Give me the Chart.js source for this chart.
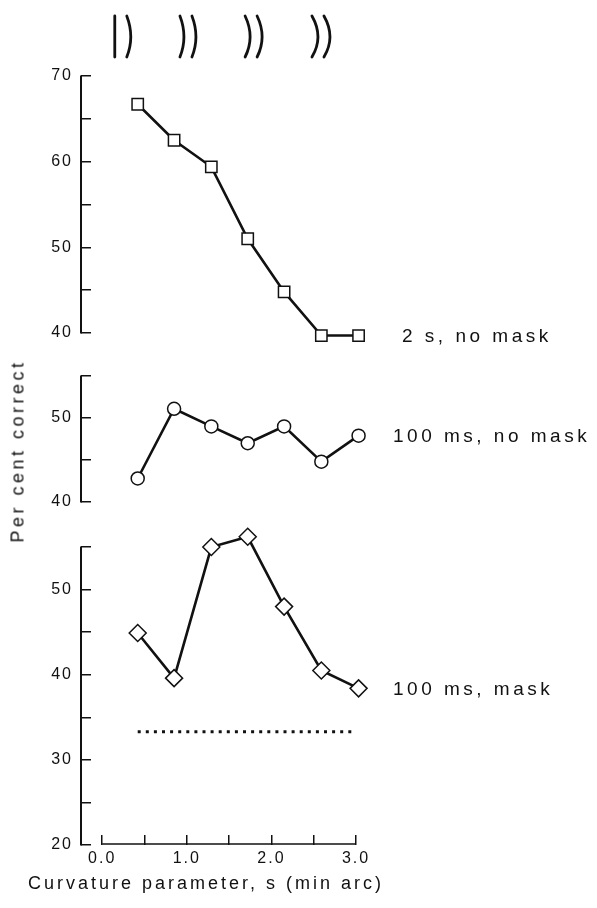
<!DOCTYPE html>
<html lang="en">
<head>
    <meta charset="UTF-8">
    <title>Per cent correct vs curvature</title>
    <script src="https://cdn.jsdelivr.net/npm/chart.js"></script>
    <style>
        body {
            margin: 0;
            background: white;
            font-family: "Liberation Sans", Arial, sans-serif;
            overflow: hidden;
        }
        .wrap {
            position: relative;
            width: 597px;
            height: 908px;
        }
        canvas {
            position: absolute;
            left: 0;
        }
        .ytitle {
            position: absolute;
            left: 18px;
            top: 451px;
            transform: translate(-50%, -50%) rotate(-90deg);
            font-size: 18px;
            letter-spacing: 3.5px;
            white-space: nowrap;
            color: #111;
        }
        .xtitle {
            position: absolute;
            left: 28px;
            top: 873px;
            font-size: 18px;
            letter-spacing: 3px;
            white-space: nowrap;
            color: #111;
        }
    </style>
    <script>
        // values
        const curvature = [0.42, 0.85, 1.29, 1.72, 2.15, 2.59, 3.03];
        const pctLongNoMask = [66.7, 62.5, 59.4, 51.0, 44.8, 39.7, 39.7];
        const pctShortNoMask = [42.8, 51.1, 49.0, 47.0, 49.0, 44.8, 47.9];
        const pctShortMask = [44.9, 39.6, 55.0, 56.2, 48.0, 40.5, 38.4];
        const chanceX = [0.42, 3.0];
        const chanceLevel = 33.3;
        const seriesNames = ["2 s, no mask", "100 ms, no mask", "100 ms, mask"];
        const xTicks = [0, 0.5, 1, 1.5, 2, 2.5, 3];
        const xTickLabels = ["0.0", "", "1.0", "", "2.0", "", "3.0"];
        const yTop = [40, 70];
        const yMid = [40, 55];
        const yBottom = [20, 55];
        // stimulus icons above the top panel (x position, bend of each arc)
        const iconX = [0.22, 0.99, 1.76, 2.55];
        const iconBends = [[0, 4], [4, 4], [5, 5], [6, 6]];

        const ink = "#111";
        const tickFont = { family: "Liberation Sans", size: 16 };

        const textPlugin = {
            id: "panelText",
            beforeDraw(chart) {
                chart.ctx.letterSpacing = "2px";
            },
            afterDatasetsDraw(chart, args, opts) {
                const ctx = chart.ctx;
                const y = chart.scales.y;
                const x = chart.scales.x;
                const left = chart.chartArea.left;

                // axis line only over the labelled range
                ctx.save();
                ctx.strokeStyle = ink;
                ctx.lineWidth = 2;
                ctx.beginPath();
                ctx.moveTo(left, y.getPixelForValue(opts.range[0]) + 0.5);
                ctx.lineTo(left, y.getPixelForValue(opts.range[1]) - 0.5);
                ctx.stroke();
                ctx.restore();

                const meta = chart.getDatasetMeta(0);
                const last = meta.data[meta.data.length - 1];
                ctx.save();
                ctx.letterSpacing = "3.5px";
                ctx.font = '19px "Liberation Sans"';
                ctx.fillStyle = ink;
                ctx.textBaseline = "middle";
                ctx.fillText(opts.label, opts.labelX, last.y + 1);
                ctx.restore();

                if (opts.icons) {
                    ctx.save();
                    ctx.strokeStyle = ink;
                    ctx.lineWidth = 2.8;
                    ctx.lineCap = "round";
                    iconX.forEach((v, i) => {
                        const cx = x.getPixelForValue(v);
                        iconBends[i].forEach((b, j) => {
                            const lx = cx + (j === 0 ? -6 : 6);
                            ctx.beginPath();
                            ctx.moveTo(lx, 16);
                            ctx.quadraticCurveTo(lx + 2 * b, 37, lx, 57);
                            ctx.stroke();
                        });
                    });
                    ctx.restore();
                }
                if (opts.baseline) {
                    const by = chart.chartArea.bottom - 1;
                    ctx.save();
                    ctx.strokeStyle = ink;
                    ctx.lineWidth = 1.5;
                    ctx.beginPath();
                    ctx.moveTo(x.getPixelForValue(xTicks[0]), by);
                    ctx.lineTo(x.getPixelForValue(xTicks[xTicks.length - 1]), by);
                    ctx.stroke();
                    ctx.restore();
                }
            }
        };

        function series(values, style, radius) {
            return {
                data: curvature.map((c, i) => ({ x: c, y: values[i] })),
                borderColor: ink,
                borderWidth: 2.6,
                pointStyle: style,
                pointRadius: radius,
                pointBorderWidth: 1.5,
                pointBorderColor: ink,
                pointBackgroundColor: "white",
                clip: false
            };
        }

        function makeChart(id, datasets, range, viewMax, pad, text, showX) {
            text.range = range;
            return new Chart(document.getElementById(id), {
                type: "line",
                data: { datasets: datasets },
                options: {
                    responsive: false,
                    animation: false,
                    events: [],
                    layout: { padding: pad },
                    plugins: {
                        legend: { display: false },
                        tooltip: { enabled: false },
                        panelText: text
                    },
                    scales: {
                        x: {
                            type: "linear",
                            display: showX,
                            min: -0.25,
                            max: 3.1,
                            afterBuildTicks: s => { s.ticks = xTicks.map(v => ({ value: v })); },
                            afterFit: s => {
                                s.height = showX ? 63 : 0;
                                s.paddingLeft = 0;
                                s.paddingRight = 0;
                            },
                            ticks: {
                                autoSkip: false,
                                maxRotation: 0,
                                padding: 14,
                                color: ink,
                                font: tickFont,
                                callback: (v, i) => xTickLabels[i]
                            },
                            grid: { drawOnChartArea: false, tickLength: -10, color: ink, lineWidth: 1.5 },
                            border: { display: false }
                        },
                        y: {
                            min: range[0],
                            max: viewMax,
                            afterFit: s => {
                                s.width = 81;
                                s.paddingTop = 0;
                                s.paddingBottom = 0;
                            },
                            afterBuildTicks: s => {
                                const t = [];
                                for (let v = range[0]; v <= range[1]; v += 5) t.push({ value: v });
                                s.ticks = t;
                            },
                            ticks: {
                                autoSkip: false,
                                padding: 18,
                                color: ink,
                                font: tickFont,
                                callback: v => (v % 10 === 0 ? String(v) : "")
                            },
                            grid: { drawOnChartArea: false, tickLength: -10, color: ink, lineWidth: 1.5 },
                            border: { display: false }
                        }
                    }
                },
                plugins: [textPlugin]
            });
        }

        window.onload = function () {
            makeChart("top", [series(pctLongNoMask, "rect", 8)], yTop, yTop[1],
                { top: 76, bottom: 12, left: 0, right: 232.5 },
                { label: seriesNames[0], labelX: 402, icons: true }, false);

            makeChart("mid", [series(pctShortNoMask, "circle", 6.5)], yMid, yMid[1],
                { top: 31, bottom: 13, left: 0, right: 232.5 },
                { label: seriesNames[1], labelX: 393 }, false);

            const chance = {
                data: chanceX.map(c => ({ x: c, y: chanceLevel })),
                borderColor: ink,
                borderWidth: 3,
                borderDash: [3, 5.1],
                borderCapStyle: "butt",
                pointRadius: 0,
                clip: false
            };
            // view extends a little above 55 so the peak marker is drawn
            makeChart("bot", [series(pctShortMask, "rectRot", 8.5), chance], yBottom, 57,
                { top: 15, bottom: 0, left: 0, right: 232.5 },
                { label: seriesNames[2], labelX: 393, baseline: true }, true);
        };
    </script>
</head>
<body>
    <div class="wrap">
        <canvas id="top" width="597" height="345" style="top:0px"></canvas>
        <canvas id="mid" width="597" height="170" style="top:345px"></canvas>
        <canvas id="bot" width="597" height="393" style="top:515px"></canvas>
        <div class="ytitle">Per cent correct</div>
        <div class="xtitle">Curvature parameter, s (min arc)</div>
    </div>
</body>
</html>
